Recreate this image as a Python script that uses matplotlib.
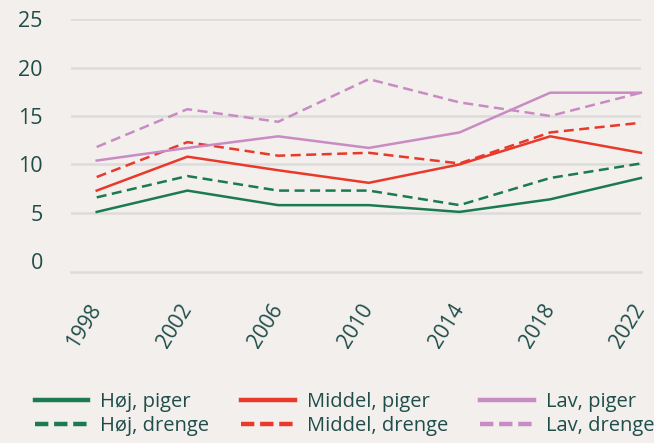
import matplotlib
matplotlib.use("Agg")
import matplotlib.pyplot as plt

plt.rcParams['font.family'] = ['Open Sans', 'DejaVu Sans']

years = [1998, 2002, 2006, 2010, 2014, 2018, 2022]
hoj_piger = [5.1, 7.3, 5.8, 5.8, 5.1, 6.4, 8.6]
hoj_drenge = [6.6, 8.8, 7.3, 7.3, 5.8, 8.6, 10.1]
middel_piger = [7.3, 10.8, 9.4, 8.1, 10.0, 12.9, 11.2]
middel_drenge = [8.7, 12.3, 10.9, 11.2, 10.1, 13.3, 14.3]
lav_piger = [10.4, 11.7, 12.9, 11.7, 13.3, 17.4, 17.4]
lav_drenge = [11.8, 15.7, 14.4, 18.8, 16.4, 15.0, 17.4]
yticks = [0, 5, 10, 15, 20, 25]

bg = '#f2efec'
txt = '#1f4d4a'
grid = '#dcdcda'
green = '#1b7a50'
red = '#e8392a'
pink = '#c98bc4'

fig = plt.figure(figsize=(6.54, 4.43), dpi=100, facecolor=bg)
ax = fig.add_axes([0.108, 0.386, 0.872, 0.571], facecolor=bg)

series = [
    (hoj_piger, green, '-', 'Høj, piger'),
    (hoj_drenge, green, '--', 'Høj, drenge'),
    (middel_piger, red, '-', 'Middel, piger'),
    (middel_drenge, red, '--', 'Middel, drenge'),
    (lav_piger, pink, '-', 'Lav, piger'),
    (lav_drenge, pink, '--', 'Lav, drenge'),
]
handles = []
for vals, c, ls, lab in series:
    ln, = ax.plot(years, vals, color=c, linestyle=ls, linewidth=1.8,
                  dashes=(4, 2.2) if ls == '--' else (None, None),
                  label=lab, clip_on=False)
    handles.append(ln)

ax.set_xlim(1996.85, 2022)
ax.set_ylim(-1.1, 25)
ax.set_yticks(yticks)
ax.set_xticks(years)
ax.set_xticklabels([str(y) for y in years], rotation=58, ha='right',
                   rotation_mode='anchor', va='center')
ax.tick_params(axis='x', length=0, pad=24, labelsize=15, labelcolor=txt)
ax.tick_params(axis='y', length=0, pad=20, labelsize=15.5, labelcolor=txt)
ax.yaxis.grid(True, color=grid, linewidth=1.8)
ax.yaxis.get_gridlines()[0].set_visible(False)
ax.set_axisbelow(True)
for s in ['top', 'right', 'left']:
    ax.spines[s].set_visible(False)
ax.spines['bottom'].set_color(grid)
ax.spines['bottom'].set_linewidth(1.8)

leg = fig.legend(handles=handles, loc='upper left', bbox_to_anchor=(0.053, 0.115),
                 ncol=3, frameon=False, fontsize=14.5, handlelength=2.65,
                 columnspacing=1.6, labelspacing=0.22, handletextpad=0.6,
                 borderaxespad=0, borderpad=0)
for t in leg.get_texts():
    t.set_color(txt)
for l in leg.get_lines():
    l.set_linewidth(3.2)
    if l.get_linestyle() != '-':
        l.set_dashes((3, 1.3))

fig.savefig('out.png', dpi=100, facecolor=bg)
